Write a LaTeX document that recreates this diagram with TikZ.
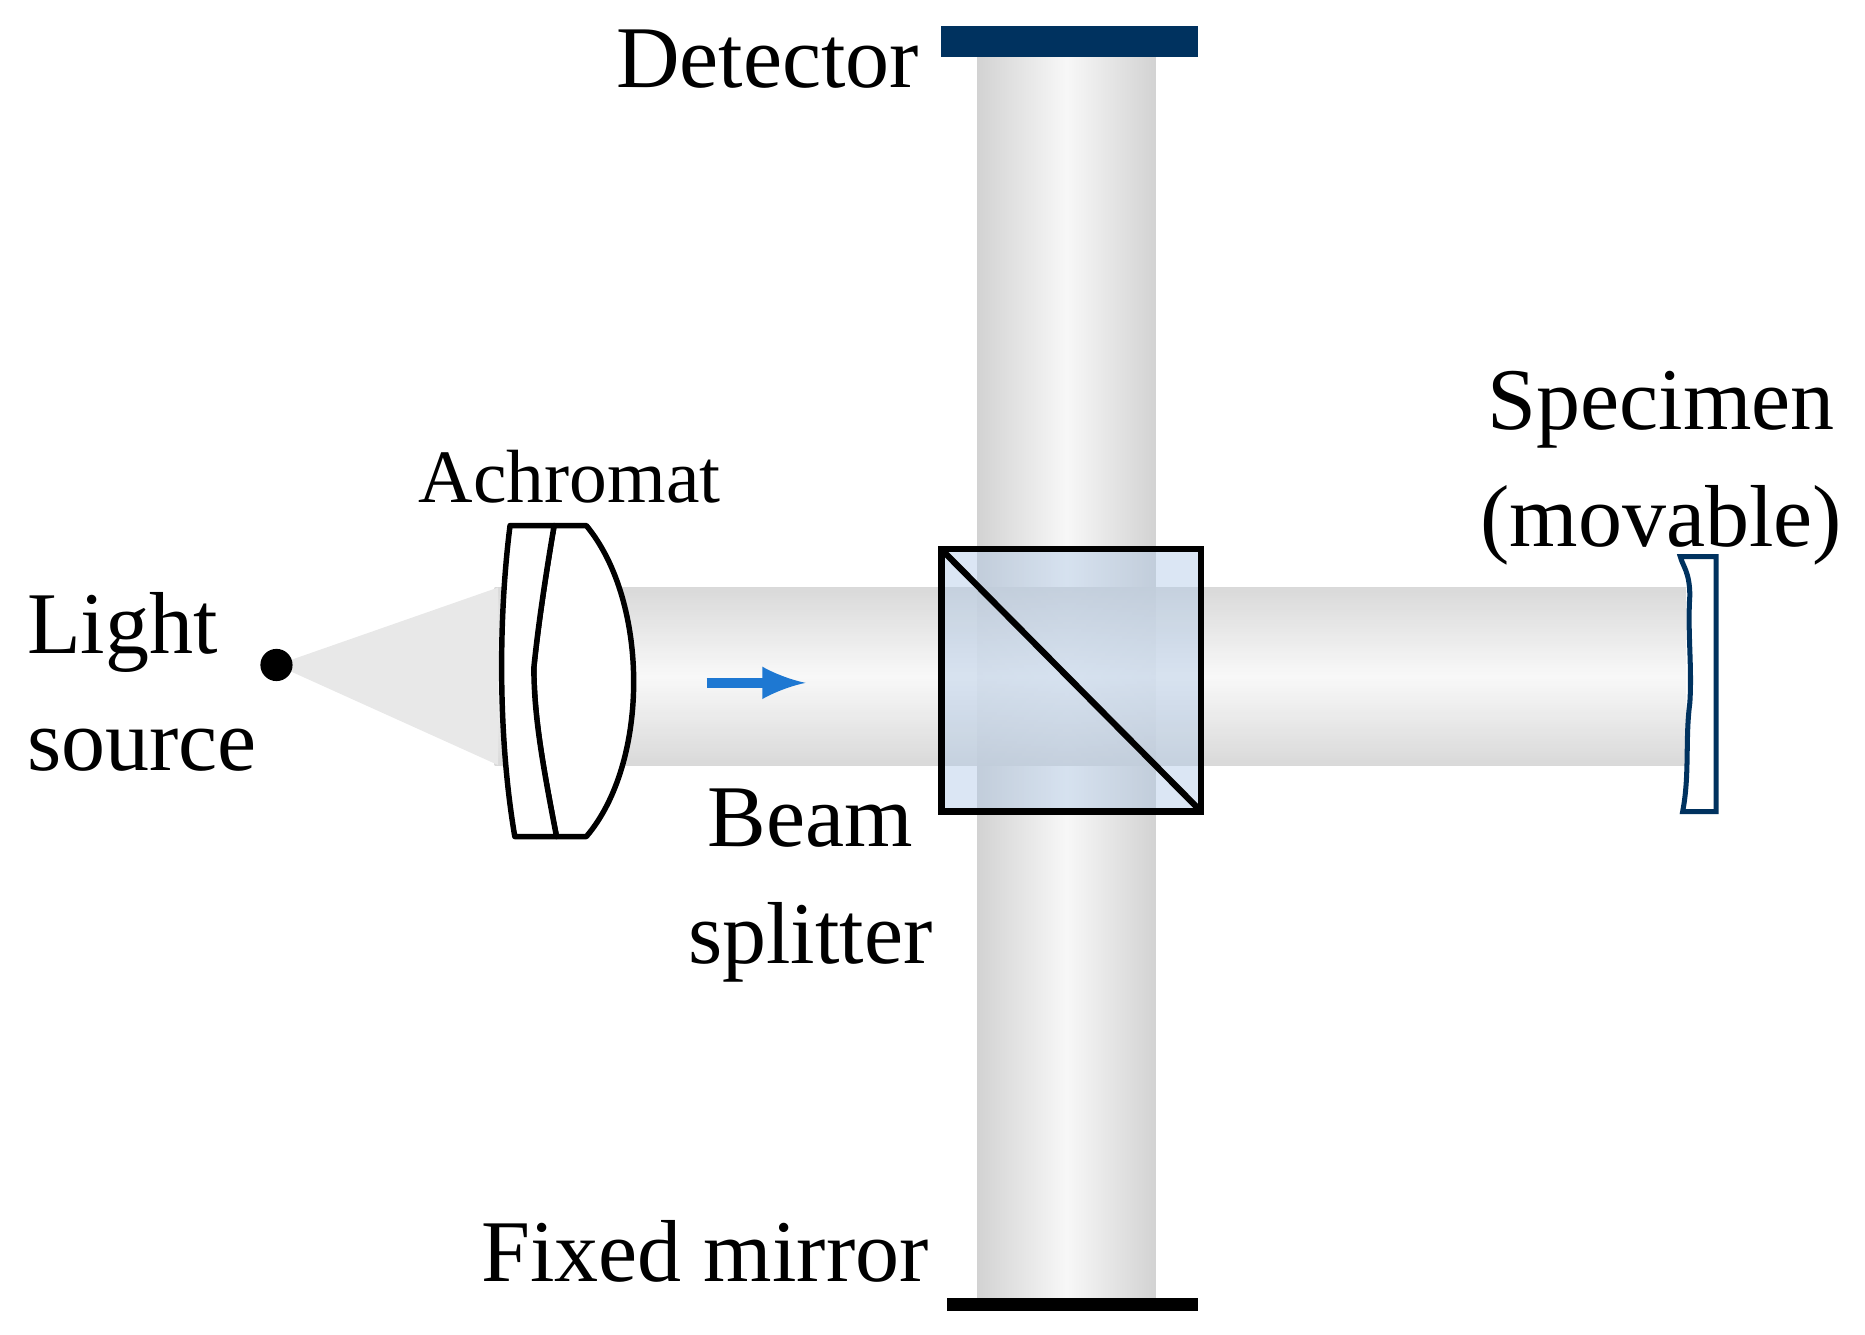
\documentclass[tikz,border=0pt]{standalone}
\usepackage{fontspec}
\setmainfont{Liberation Serif}
\begin{document}
\begin{tikzpicture}[x=0.01cm,y=-0.01cm,
  lbl/.style={font=\fontsize{21}{23}\selectfont, inner sep=0pt, align=center},
  lens/.style={draw=black, line width=1.3pt, fill=white, line join=round}]
\useasboundingbox (0,0) rectangle (1565,1120);
\definecolor{navy}{RGB}{0,50,95}
% vertical beam
\shade[left color=gray!35, right color=gray!35, middle color=gray!6] (820,48) rectangle (970,1090);
% horizontal beam
\shade[top color=gray!35, bottom color=gray!35, middle color=gray!6, opacity=0.85] (415,493) rectangle (1415,642);
% cone
\fill[gray!18] (232,558) -- (418,493) -- (418,642) -- cycle;
% source
\node[circle, fill=black, minimum size=0.27cm, inner sep=0] (src) at (232,558) {};
% detector and mirror
\fill[navy] (790,22) rectangle (1005,48);
\fill[black] (795,1089) rectangle (1005,1100);
% lens
\draw[lens] (465,441) -- (492,441) .. controls (545,505) and (545,640) .. (492,702) -- (467,702) .. controls (455,640) and (448,600) .. (448,560) .. controls (452,520) and (460,470) .. (465,441) -- cycle;
\draw[lens] (428,441) -- (465,441) .. controls (460,470) and (452,520) .. (448,560) .. controls (448,600) and (455,640) .. (467,702) -- (432,702) .. controls (418,620) and (418,520) .. (428,441) -- cycle;
% arrow
\coordinate (a1) at (593,573);
\coordinate (a2) at (676,573);
\draw[-latex, line width=2.5pt, color={rgb,255:red,30;green,120;blue,210}] (a1) -- (a2);
% beam splitter
\node[draw=black, line width=1.5pt, fill={rgb,255:red,175;green,200;blue,230}, fill opacity=0.45, minimum width=2.18cm, minimum height=2.2cm, inner sep=0, outer sep=0] (bs) at (899,571) {};
\draw[line width=1.5pt] (bs.north west) -- (bs.south east);
% specimen
\draw[navy, line width=1.2pt, fill=white] (1440,467) -- (1440,681) -- (1412,681)
  .. controls (1418,650) and (1414,620) .. (1418,590) .. controls (1420,560) and (1416,530) .. (1418,500)
  .. controls (1418,480) and (1412,475) .. (1410,467) -- cycle;
% labels
\node[lbl, anchor=east] (tdet) at (772,50) {Detector};
\node[lbl, anchor=east] (tfix) at (780,1050) {Fixed mirror};
\node[lbl, font=\fontsize{18}{20}\selectfont] (tach) at (478,400) {Achromat};
\node[lbl, align=left, anchor=west, font=\fontsize{21}{28}\selectfont] (tls) at (22,572) {Light\\source};
\node[lbl, font=\fontsize{21}{28}\selectfont] (tbs) at (680,743) {Beam\\splitter};
\node[lbl, font=\fontsize{21}{28}\selectfont] (tsp) at (1394,393) {Specimen\\(movable)};
\end{tikzpicture}
\end{document}
